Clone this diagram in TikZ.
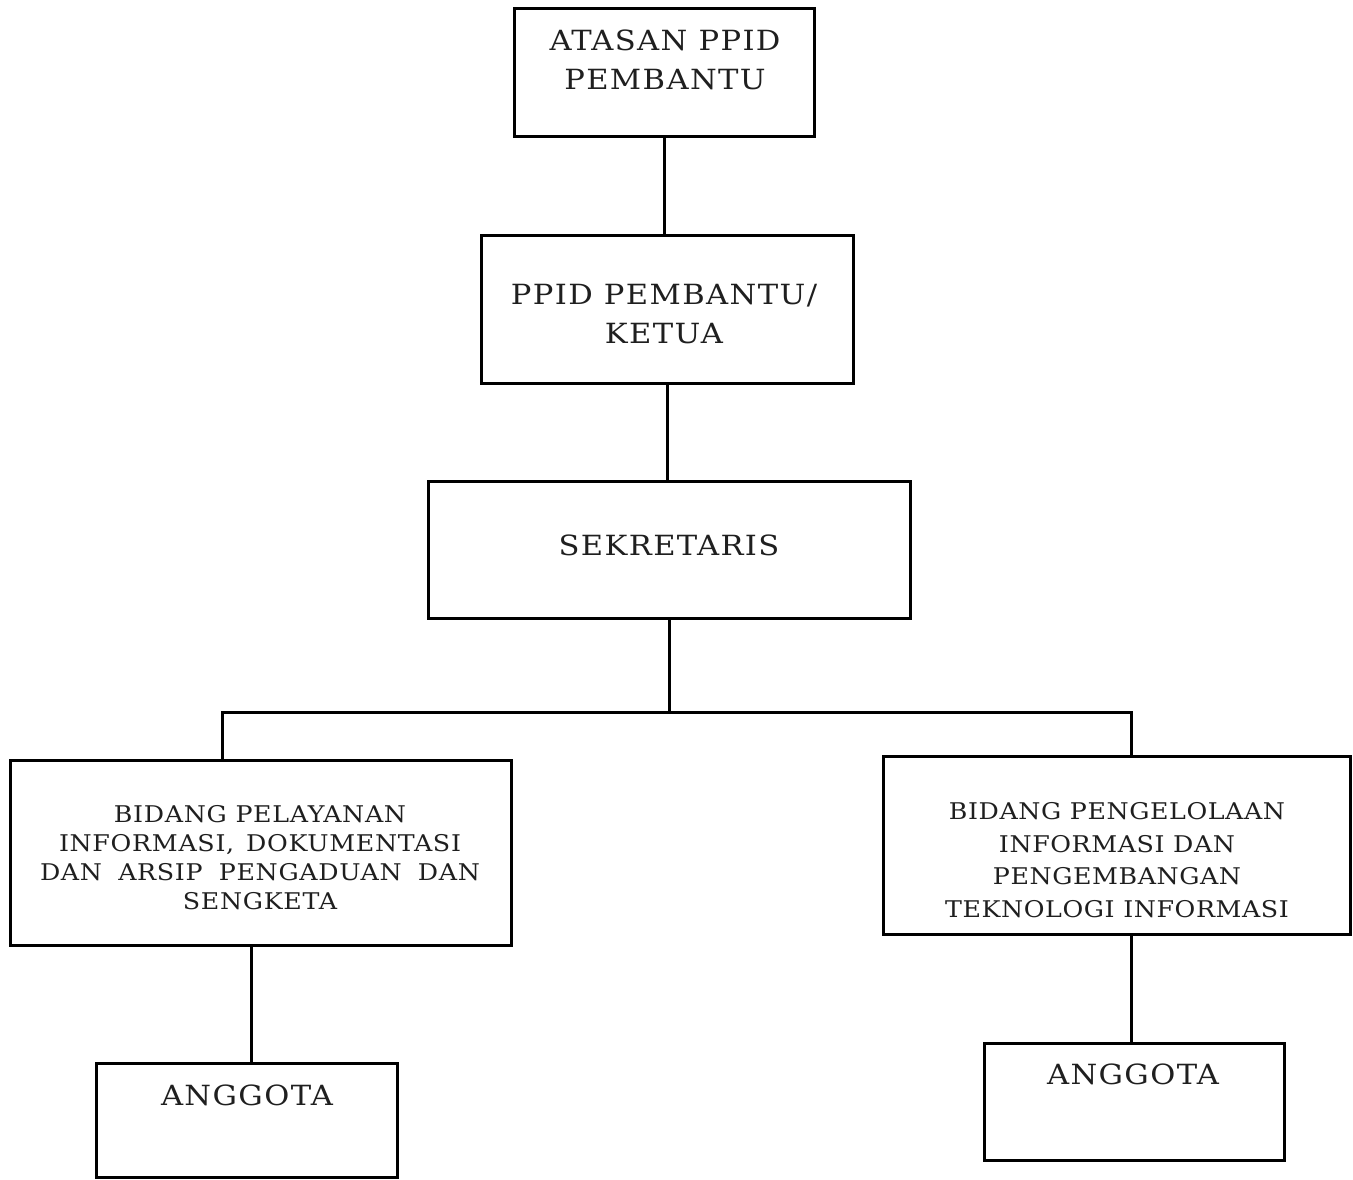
\documentclass[tikz,border=0pt]{standalone}
\usepackage{fontspec}
\setmainfont{DejaVu Serif}[FakeStretch=1.1]
\begin{document}
\begin{tikzpicture}[x=0.5pt,y=-0.5pt,
  box/.style={draw=black, line width=1.5pt, inner sep=0pt},
  conn/.style={draw=black, line width=1.5pt},
  big/.style={font=\fontsize{13.9}{19.5}\selectfont\addfontfeature{LetterSpace=5}, text=black!88, align=center, inner sep=0pt},
  small/.style={font=\fontsize{11.5}{14.5}\selectfont\addfontfeature{LetterSpace=3}, text=black!88, align=center, inner sep=0pt}]
\useasboundingbox (0,0) rectangle (1353,1179);
\node[box, minimum width=150pt, minimum height=64pt] (b1) at (664,72) {};
\node[box, minimum width=186pt, minimum height=74pt] (b2) at (667,309) {};
\node[box, minimum width=241pt, minimum height=68.5pt] (b3) at (669,549.5) {};
\node[box, minimum width=250.5pt, minimum height=92.5pt] (b4) at (260.5,852.5) {};
\node[box, minimum width=233.5pt, minimum height=89pt] (b5) at (1116.5,845) {};
\node[box, minimum width=150.5pt, minimum height=57pt] (b6) at (246.5,1120) {};
\node[box, minimum width=150pt, minimum height=58.5pt] (b7) at (1134,1101.5) {};
% texts
\node[big] (t1) at (665,59.5) {ATASAN PPID\\PEMBANTU};
\node[big] (t2) at (664,314) {PPID PEMBANTU/\\KETUA};
\node[big] (t3) at (669,545) {SEKRETARIS};
\node[small] (t4) at (260,857.5) {BIDANG PELAYANAN\\\makebox[201pt][s]{INFORMASI, DOKUMENTASI}\\\makebox[220pt][s]{DAN ARSIP PENGADUAN DAN}\\SENGKETA};
\node[small, font=\fontsize{11.5}{16.3}\selectfont\addfontfeature{LetterSpace=2.5}] (t5) at (1117,860) {BIDANG PENGELOLAAN\\INFORMASI DAN\\PENGEMBANGAN\\TEKNOLOGI INFORMASI};
\node[big] (t6) at (247,1095) {ANGGOTA};
\node[big] (t7) at (1133,1074) {ANGGOTA};
% connectors
\coordinate (jl) at (222,712);
\coordinate (jr) at (1131,712);
\coordinate (c6) at (251,1000);
\draw[conn] (b1.south) -- (b1.south |- b2.north);
\draw[conn] (b2.south) -- (b2.south |- b3.north);
\draw[conn] (b3.south) -- (b3.south |- jl);
\draw[conn] (jl |- b4.north) -- (jl) -- (jr) -- (jr |- b5.north);
\draw[conn] (c6 |- b4.south) -- (c6 |- b6.north);
\draw[conn] (jr |- b5.south) -- (jr |- b7.north);
\end{tikzpicture}
\end{document}
